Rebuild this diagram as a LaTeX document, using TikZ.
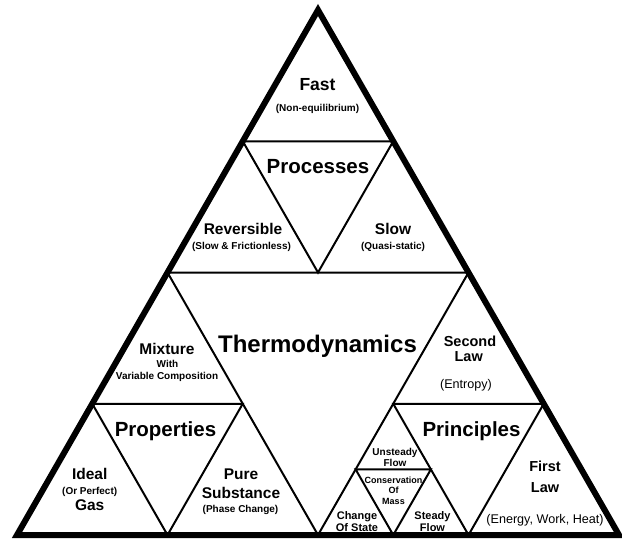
\documentclass[tikz,border=0pt]{standalone}
\usepackage{fontspec}
\setmainfont{Liberation Sans}
\usetikzlibrary{calc}
\begin{document}
\begin{tikzpicture}[x=1pt, y=-1pt,
		inner line/.style={line width=2pt, black, line join=miter},
		outer line/.style={line width=6pt, black, line join=miter},
		lbl/.style={inner sep=0pt, text height=.72em, text depth=0pt, anchor=center},
		huge label/.style={lbl, font=\bfseries\fontsize{24}{24}\selectfont},
		big label/.style={lbl, font=\bfseries\fontsize{20.5}{20.5}\selectfont},
		fast label/.style={lbl, font=\bfseries\fontsize{17.5}{17.5}\selectfont},
		mid label/.style={lbl, font=\bfseries\fontsize{15.5}{15.5}\selectfont},
		law label/.style={lbl, font=\bfseries\fontsize{14.5}{14.5}\selectfont},
		plain label/.style={lbl, font=\fontsize{12.6}{12.6}\selectfont},
		small label/.style={lbl, font=\bfseries\fontsize{10}{10}\selectfont},
		tiny label/.style={lbl, font=\bfseries\fontsize{10}{10}\selectfont},
		mini label/.style={lbl, font=\bfseries\fontsize{9}{9}\selectfont},
		corner label/.style={lbl, font=\bfseries\fontsize{11}{11}\selectfont}]
	\useasboundingbox (0,0) rectangle (622,541);
	
	% 大三角形
	\coordinate (A) at (318,10);
	\coordinate (L) at (17,535);
	\coordinate (R) at (619,535);
	
	% 第一层中点
	\coordinate (AL) at ($(A)!0.5!(L)$);
	\coordinate (AR) at ($(A)!0.5!(R)$);
	\coordinate (LR) at ($(L)!0.5!(R)$);
	
	% 第二层中点
	\coordinate (P1) at ($(A)!0.5!(AL)$);
	\coordinate (P2) at ($(A)!0.5!(AR)$);
	\coordinate (P3) at ($(AL)!0.5!(AR)$);
	\coordinate (Q1) at ($(AL)!0.5!(L)$);
	\coordinate (Q2) at ($(AL)!0.5!(LR)$);
	\coordinate (Q3) at ($(L)!0.5!(LR)$);
	\coordinate (S1) at ($(AR)!0.5!(LR)$);
	\coordinate (S2) at ($(AR)!0.5!(R)$);
	\coordinate (S3) at ($(LR)!0.5!(R)$);
	
	% 第三层中点
	\coordinate (T1) at ($(S1)!0.5!(LR)$);
	\coordinate (T2) at ($(S1)!0.5!(S3)$);
	\coordinate (T3) at ($(LR)!0.5!(S3)$);
	
	% 倒三角形
	\draw[inner line] (AL) -- (AR) -- (LR) -- cycle;
	\draw[inner line] (P1) -- (P2) -- (P3) -- cycle;
	\draw[inner line] (Q1) -- (Q2) -- (Q3) -- cycle;
	\draw[inner line] (S1) -- (S2) -- (S3) -- cycle;
	\draw[inner line] (T1) -- (T2) -- (T3) -- cycle;
	
	\draw[outer line] (A) -- (L) -- (R) -- cycle;
	
	% 文字
	\node[huge label] (thermo) at (317.5,349) {Thermodynamics};
	\node[big label] (proc) at (318,170) {Processes};
	\node[big label] (prop) at (165.5,433) {Properties};
	\node[big label] (princ) at (471.5,433) {Principles};
	
	\node[fast label] (fast) at (317.5,87) {Fast};
	\node[small label] (noneq) at (317.5,108) {(Non-equilibrium)};
	\node[mid label] (rev) at (243,231) {Reversible};
	\node[small label] (revnote) at (241.5,246) {(Slow \& Frictionless)};
	\node[mid label] (slow) at (393,231) {Slow};
	\node[small label] (slownote) at (393,246) {(Quasi-static)};
	
	\node[mid label] (mix) at (167,350.5) {Mixture};
	\node[small label] (with) at (167.5,364) {With};
	\node[small label] (varcomp) at (167,376) {Variable Composition};
	\node[law label] (second) at (470,342.5) {Second};
	\node[law label] (lawtwo) at (468.7,357.5) {Law};
	\node[plain label] (entropy) at (466,385) {(Entropy)};
	
	\node[mid label] (ideal) at (89.7,476) {Ideal};
	\node[small label] (perfect) at (89.7,491) {(Or Perfect)};
	\node[mid label] (gas) at (89.7,506.5) {Gas};
	\node[mid label] (pure) at (241,476) {Pure};
	\node[mid label] (subst) at (241,495) {Substance};
	\node[small label] (phase) at (240.5,508.5) {(Phase Change)};
	
	\node[law label] (first) at (545,467.5) {First};
	\node[law label] (lawone) at (545,489) {Law};
	\node[plain label] (energy) at (545,520) {(Energy, Work, Heat)};
	
	\node[tiny label] (unsteady) at (395,451.5) {Unsteady};
	\node[tiny label] (uflow) at (395,463) {Flow};
	\node[mini label] (cons) at (393.5,479.5) {Conservation};
	\node[mini label] (of) at (393.5,490) {Of};
	\node[mini label] (mass) at (393.5,501) {Mass};
	\node[corner label] (change) at (357,515.5) {Change};
	\node[corner label] (ofstate) at (357,528) {Of State};
	\node[corner label] (steady) at (432.5,515.5) {Steady};
	\node[corner label] (sflow) at (432.5,528) {Flow};
\end{tikzpicture}
\end{document}
